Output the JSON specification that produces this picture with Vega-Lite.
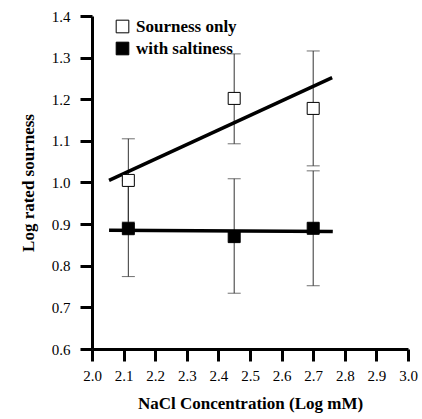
{
  "$schema": "https://vega.github.io/schema/vega-lite/v6.json",
  "width": 316,
  "height": 333,
  "autosize": {"type": "none"},
  "padding": {"left": 92, "top": 16, "right": 14, "bottom": 70},
  "background": "white",
  "config": {
    "view": {"stroke": null},
    "font": "Liberation Serif",
    "axis": {"grid": false, "domainColor": "black", "domainWidth": 3, "tickColor": "black", "tickWidth": 3, "tickSize": 12, "labelFont": "Liberation Serif", "labelFontSize": 15, "labelColor": "black", "titleFont": "Liberation Serif", "titleFontSize": 17, "titleFontWeight": "bold", "titleColor": "black"},
    "style": {
      "guide-label": {"font": "Liberation Serif", "fontSize": 15, "fill": "black"},
      "guide-title": {"font": "Liberation Serif", "fontSize": 17, "fontWeight": "bold", "fill": "black"}
    }
  },
  "datasets": {
    "points": [
      {"nacl": 2.115, "rating": 1.005, "lo": 0.905, "hi": 1.105, "series": "Sourness only"},
      {"nacl": 2.45, "rating": 1.202, "lo": 1.093, "hi": 1.309, "series": "Sourness only"},
      {"nacl": 2.70, "rating": 1.178, "lo": 1.040, "hi": 1.316, "series": "Sourness only"},
      {"nacl": 2.115, "rating": 0.889, "lo": 0.774, "hi": 1.004, "series": "with saltiness"},
      {"nacl": 2.45, "rating": 0.870, "lo": 0.734, "hi": 1.009, "series": "with saltiness"},
      {"nacl": 2.70, "rating": 0.890, "lo": 0.752, "hi": 1.028, "series": "with saltiness"}
    ],
    "fits": [
      {"nacl": 2.054, "rating": 1.005, "series": "Sourness only"},
      {"nacl": 2.760, "rating": 1.252, "series": "Sourness only"},
      {"nacl": 2.054, "rating": 0.885, "series": "with saltiness"},
      {"nacl": 2.762, "rating": 0.882, "series": "with saltiness"}
    ]
  },
  "layer": [
    {
      "data": {"name": "points"},
      "mark": {"type": "rule", "color": "#333", "strokeWidth": 1},
      "encoding": {
        "x": {"field": "nacl", "type": "quantitative", "scale": {"domain": [2.0, 3.0], "nice": false},
          "axis": {"values": [2.0, 2.1, 2.2, 2.3, 2.4, 2.5, 2.6, 2.7, 2.8, 2.9, 3.0], "format": ".1f", "grid": false, "domainColor": "black", "domainWidth": 3, "tickColor": "black", "tickWidth": 3, "tickSize": 12, "labelFont": "Liberation Serif", "labelFontSize": 15, "labelColor": "black", "labelOverlap": false, "labelFlush": false, "titleFont": "Liberation Serif", "titleFontSize": 17, "titleFontWeight": "bold", "titleColor": "black", "labelPadding": 7, "titlePadding": 12, "title": "NaCl Concentration (Log mM)",
            "encode": {"labels": {"update": {"font": {"value": "Liberation Serif"}, "fontSize": {"value": 15}, "fill": {"value": "black"}}}, "title": {"update": {"font": {"value": "Liberation Serif"}, "fontSize": {"value": 17}, "fontWeight": {"value": "bold"}, "fill": {"value": "black"}}}, "ticks": {"update": {"stroke": {"value": "black"}, "strokeWidth": {"value": 3}}}, "domain": {"update": {"stroke": {"value": "black"}, "strokeWidth": {"value": 3}}}}}},
        "y": {"field": "lo", "type": "quantitative", "scale": {"domain": [0.6, 1.4], "nice": false, "zero": false},
          "axis": {"values": [0.6, 0.7, 0.8, 0.9, 1.0, 1.1, 1.2, 1.3, 1.4], "format": ".1f", "grid": false, "domainColor": "black", "domainWidth": 3, "tickColor": "black", "tickWidth": 3, "tickSize": 12, "labelFont": "Liberation Serif", "labelFontSize": 15, "labelColor": "black", "labelOverlap": false, "labelFlush": false, "titleFont": "Liberation Serif", "titleFontSize": 17, "titleFontWeight": "bold", "titleColor": "black", "labelPadding": 10, "titlePadding": 14, "title": "Log rated sourness",
            "encode": {"labels": {"update": {"font": {"value": "Liberation Serif"}, "fontSize": {"value": 15}, "fill": {"value": "black"}}}, "title": {"update": {"font": {"value": "Liberation Serif"}, "fontSize": {"value": 17}, "fontWeight": {"value": "bold"}, "fill": {"value": "black"}}}, "ticks": {"update": {"stroke": {"value": "black"}, "strokeWidth": {"value": 3}}}, "domain": {"update": {"stroke": {"value": "black"}, "strokeWidth": {"value": 3}}}}}},
        "y2": {"field": "hi"}
      }
    },
    {
      "data": {"name": "points"},
      "mark": {"type": "tick", "orient": "horizontal", "color": "#333", "thickness": 1, "size": 13},
      "encoding": {
        "x": {"field": "nacl", "type": "quantitative", "scale": {"domain": [2.0, 3.0], "nice": false},
          "axis": {"values": [2.0, 2.1, 2.2, 2.3, 2.4, 2.5, 2.6, 2.7, 2.8, 2.9, 3.0], "format": ".1f", "grid": false, "domainColor": "black", "domainWidth": 3, "tickColor": "black", "tickWidth": 3, "tickSize": 12, "labelFont": "Liberation Serif", "labelFontSize": 15, "labelColor": "black", "labelOverlap": false, "labelFlush": false, "titleFont": "Liberation Serif", "titleFontSize": 17, "titleFontWeight": "bold", "titleColor": "black", "labelPadding": 7, "titlePadding": 12, "title": "NaCl Concentration (Log mM)",
            "encode": {"labels": {"update": {"font": {"value": "Liberation Serif"}, "fontSize": {"value": 15}, "fill": {"value": "black"}}}, "title": {"update": {"font": {"value": "Liberation Serif"}, "fontSize": {"value": 17}, "fontWeight": {"value": "bold"}, "fill": {"value": "black"}}}, "ticks": {"update": {"stroke": {"value": "black"}, "strokeWidth": {"value": 3}}}, "domain": {"update": {"stroke": {"value": "black"}, "strokeWidth": {"value": 3}}}}}},
        "y": {"field": "lo", "type": "quantitative", "scale": {"domain": [0.6, 1.4], "nice": false, "zero": false},
          "axis": {"values": [0.6, 0.7, 0.8, 0.9, 1.0, 1.1, 1.2, 1.3, 1.4], "format": ".1f", "grid": false, "domainColor": "black", "domainWidth": 3, "tickColor": "black", "tickWidth": 3, "tickSize": 12, "labelFont": "Liberation Serif", "labelFontSize": 15, "labelColor": "black", "labelOverlap": false, "labelFlush": false, "titleFont": "Liberation Serif", "titleFontSize": 17, "titleFontWeight": "bold", "titleColor": "black", "labelPadding": 10, "titlePadding": 14, "title": "Log rated sourness",
            "encode": {"labels": {"update": {"font": {"value": "Liberation Serif"}, "fontSize": {"value": 15}, "fill": {"value": "black"}}}, "title": {"update": {"font": {"value": "Liberation Serif"}, "fontSize": {"value": 17}, "fontWeight": {"value": "bold"}, "fill": {"value": "black"}}}, "ticks": {"update": {"stroke": {"value": "black"}, "strokeWidth": {"value": 3}}}, "domain": {"update": {"stroke": {"value": "black"}, "strokeWidth": {"value": 3}}}}}}
      }
    },
    {
      "data": {"name": "points"},
      "mark": {"type": "tick", "orient": "horizontal", "color": "#333", "thickness": 1, "size": 13},
      "encoding": {
        "x": {"field": "nacl", "type": "quantitative", "scale": {"domain": [2.0, 3.0], "nice": false},
          "axis": {"values": [2.0, 2.1, 2.2, 2.3, 2.4, 2.5, 2.6, 2.7, 2.8, 2.9, 3.0], "format": ".1f", "grid": false, "domainColor": "black", "domainWidth": 3, "tickColor": "black", "tickWidth": 3, "tickSize": 12, "labelFont": "Liberation Serif", "labelFontSize": 15, "labelColor": "black", "labelOverlap": false, "labelFlush": false, "titleFont": "Liberation Serif", "titleFontSize": 17, "titleFontWeight": "bold", "titleColor": "black", "labelPadding": 7, "titlePadding": 12, "title": "NaCl Concentration (Log mM)",
            "encode": {"labels": {"update": {"font": {"value": "Liberation Serif"}, "fontSize": {"value": 15}, "fill": {"value": "black"}}}, "title": {"update": {"font": {"value": "Liberation Serif"}, "fontSize": {"value": 17}, "fontWeight": {"value": "bold"}, "fill": {"value": "black"}}}, "ticks": {"update": {"stroke": {"value": "black"}, "strokeWidth": {"value": 3}}}, "domain": {"update": {"stroke": {"value": "black"}, "strokeWidth": {"value": 3}}}}}},
        "y": {"field": "hi", "type": "quantitative", "scale": {"domain": [0.6, 1.4], "nice": false, "zero": false},
          "axis": {"values": [0.6, 0.7, 0.8, 0.9, 1.0, 1.1, 1.2, 1.3, 1.4], "format": ".1f", "grid": false, "domainColor": "black", "domainWidth": 3, "tickColor": "black", "tickWidth": 3, "tickSize": 12, "labelFont": "Liberation Serif", "labelFontSize": 15, "labelColor": "black", "labelOverlap": false, "labelFlush": false, "titleFont": "Liberation Serif", "titleFontSize": 17, "titleFontWeight": "bold", "titleColor": "black", "labelPadding": 10, "titlePadding": 14, "title": "Log rated sourness",
            "encode": {"labels": {"update": {"font": {"value": "Liberation Serif"}, "fontSize": {"value": 15}, "fill": {"value": "black"}}}, "title": {"update": {"font": {"value": "Liberation Serif"}, "fontSize": {"value": 17}, "fontWeight": {"value": "bold"}, "fill": {"value": "black"}}}, "ticks": {"update": {"stroke": {"value": "black"}, "strokeWidth": {"value": 3}}}, "domain": {"update": {"stroke": {"value": "black"}, "strokeWidth": {"value": 3}}}}}}
      }
    },
    {
      "data": {"name": "fits"},
      "mark": {"type": "line", "color": "black", "strokeWidth": 3.5},
      "encoding": {
        "x": {"field": "nacl", "type": "quantitative", "scale": {"domain": [2.0, 3.0], "nice": false},
          "axis": {"values": [2.0, 2.1, 2.2, 2.3, 2.4, 2.5, 2.6, 2.7, 2.8, 2.9, 3.0], "format": ".1f", "grid": false, "domainColor": "black", "domainWidth": 3, "tickColor": "black", "tickWidth": 3, "tickSize": 12, "labelFont": "Liberation Serif", "labelFontSize": 15, "labelColor": "black", "labelOverlap": false, "labelFlush": false, "titleFont": "Liberation Serif", "titleFontSize": 17, "titleFontWeight": "bold", "titleColor": "black", "labelPadding": 7, "titlePadding": 12, "title": "NaCl Concentration (Log mM)",
            "encode": {"labels": {"update": {"font": {"value": "Liberation Serif"}, "fontSize": {"value": 15}, "fill": {"value": "black"}}}, "title": {"update": {"font": {"value": "Liberation Serif"}, "fontSize": {"value": 17}, "fontWeight": {"value": "bold"}, "fill": {"value": "black"}}}, "ticks": {"update": {"stroke": {"value": "black"}, "strokeWidth": {"value": 3}}}, "domain": {"update": {"stroke": {"value": "black"}, "strokeWidth": {"value": 3}}}}}},
        "y": {"field": "rating", "type": "quantitative", "scale": {"domain": [0.6, 1.4], "nice": false, "zero": false},
          "axis": {"values": [0.6, 0.7, 0.8, 0.9, 1.0, 1.1, 1.2, 1.3, 1.4], "format": ".1f", "grid": false, "domainColor": "black", "domainWidth": 3, "tickColor": "black", "tickWidth": 3, "tickSize": 12, "labelFont": "Liberation Serif", "labelFontSize": 15, "labelColor": "black", "labelOverlap": false, "labelFlush": false, "titleFont": "Liberation Serif", "titleFontSize": 17, "titleFontWeight": "bold", "titleColor": "black", "labelPadding": 10, "titlePadding": 14, "title": "Log rated sourness",
            "encode": {"labels": {"update": {"font": {"value": "Liberation Serif"}, "fontSize": {"value": 15}, "fill": {"value": "black"}}}, "title": {"update": {"font": {"value": "Liberation Serif"}, "fontSize": {"value": 17}, "fontWeight": {"value": "bold"}, "fill": {"value": "black"}}}, "ticks": {"update": {"stroke": {"value": "black"}, "strokeWidth": {"value": 3}}}, "domain": {"update": {"stroke": {"value": "black"}, "strokeWidth": {"value": 3}}}}}},
        "detail": {"field": "series"}
      }
    },
    {
      "data": {"name": "points"},
      "mark": {"type": "point", "shape": "square", "size": 144, "filled": true, "stroke": "black", "strokeWidth": 1, "opacity": 1},
      "encoding": {
        "x": {"field": "nacl", "type": "quantitative", "scale": {"domain": [2.0, 3.0], "nice": false},
          "axis": {"values": [2.0, 2.1, 2.2, 2.3, 2.4, 2.5, 2.6, 2.7, 2.8, 2.9, 3.0], "format": ".1f", "grid": false, "domainColor": "black", "domainWidth": 3, "tickColor": "black", "tickWidth": 3, "tickSize": 12, "labelFont": "Liberation Serif", "labelFontSize": 15, "labelColor": "black", "labelOverlap": false, "labelFlush": false, "titleFont": "Liberation Serif", "titleFontSize": 17, "titleFontWeight": "bold", "titleColor": "black", "labelPadding": 7, "titlePadding": 12, "title": "NaCl Concentration (Log mM)",
            "encode": {"labels": {"update": {"font": {"value": "Liberation Serif"}, "fontSize": {"value": 15}, "fill": {"value": "black"}}}, "title": {"update": {"font": {"value": "Liberation Serif"}, "fontSize": {"value": 17}, "fontWeight": {"value": "bold"}, "fill": {"value": "black"}}}, "ticks": {"update": {"stroke": {"value": "black"}, "strokeWidth": {"value": 3}}}, "domain": {"update": {"stroke": {"value": "black"}, "strokeWidth": {"value": 3}}}}}},
        "y": {"field": "rating", "type": "quantitative", "scale": {"domain": [0.6, 1.4], "nice": false, "zero": false},
          "axis": {"values": [0.6, 0.7, 0.8, 0.9, 1.0, 1.1, 1.2, 1.3, 1.4], "format": ".1f", "grid": false, "domainColor": "black", "domainWidth": 3, "tickColor": "black", "tickWidth": 3, "tickSize": 12, "labelFont": "Liberation Serif", "labelFontSize": 15, "labelColor": "black", "labelOverlap": false, "labelFlush": false, "titleFont": "Liberation Serif", "titleFontSize": 17, "titleFontWeight": "bold", "titleColor": "black", "labelPadding": 10, "titlePadding": 14, "title": "Log rated sourness",
            "encode": {"labels": {"update": {"font": {"value": "Liberation Serif"}, "fontSize": {"value": 15}, "fill": {"value": "black"}}}, "title": {"update": {"font": {"value": "Liberation Serif"}, "fontSize": {"value": 17}, "fontWeight": {"value": "bold"}, "fill": {"value": "black"}}}, "ticks": {"update": {"stroke": {"value": "black"}, "strokeWidth": {"value": 3}}}, "domain": {"update": {"stroke": {"value": "black"}, "strokeWidth": {"value": 3}}}}}},
        "fill": {
          "field": "series", "type": "nominal",
          "scale": {"domain": ["Sourness only", "with saltiness"], "range": ["white", "black"]},
          "legend": {
            "title": null,
            "orient": "none",
            "legendX": 22,
            "legendY": 2,
            "symbolType": "square",
            "symbolSize": 160,
            "symbolStrokeColor": "black",
            "symbolStrokeWidth": 1,
            "symbolOpacity": 1,
            "labelFont": "Liberation Serif",
            "labelFontSize": 17,
            "labelFontWeight": "bold",
            "labelColor": "black",
            "labelOffset": 5,
            "rowPadding": 4
          }
        }
      }
    }
  ]
}
